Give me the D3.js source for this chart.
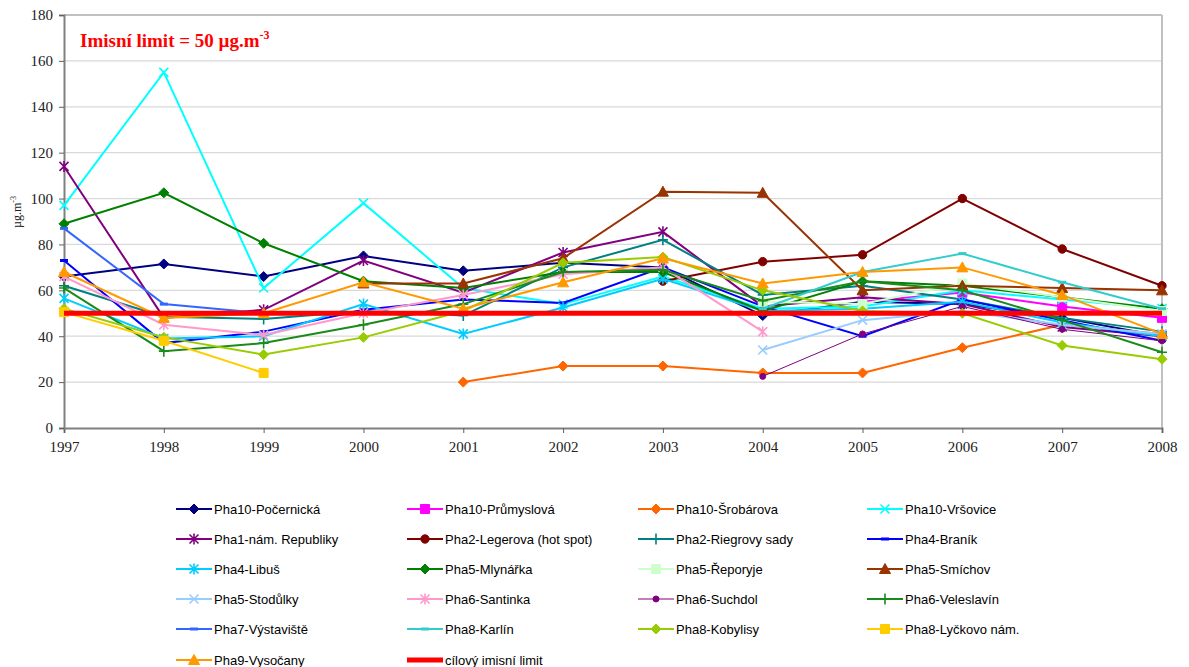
<!DOCTYPE html>
<html>
<head>
<meta charset="utf-8">
<title>Imisní limit</title>
<style>
body { margin: 0; background: #fff; }
</style>
</head>
<body>
<div id="container"></div>
<script src="https://d3js.org/d3.v7.min.js"></script>
<script>
// Years on the x axis
const years = [1997, 1998, 1999, 2000, 2001, 2002, 2003, 2004, 2005, 2006, 2007, 2008];
const yTicks = [0, 20, 40, 60, 80, 100, 120, 140, 160, 180];

// Annual values per station (µg.m-3), null = no measurement
const pocernicka  = [66, 71.5, 66, 75, 68.5, 72, 70, 49, 55, 54, 48, 40];
const prumyslova  = [null, null, null, null, null, null, null, null, 55, 59, 53, 48];
const srobarova   = [null, null, null, null, 20, 27, 27, 24, 24, 35, 45, 41];
const vrsovice    = [97, 155, 61, 98, 61, 54, 66, 52, 53, 60, 56, 52];
const namRepubliky = [114, 48, 51.5, 73, 59, 76.5, 85.5, 53, 57, 54, 44, 40];
const legerova    = [null, null, null, null, null, null, 64, 72.5, 75.5, 100, 78, 62];
const riegrovy    = [62, 48.5, 47.5, 51, 49, 70, 82, 58, 62, 56, 48, 42];
const branik      = [73, 37, 42, 51.5, 56, 54.5, 70, 53, 40, 56, 47, 38];
const libus       = [56.5, 39, 40, 54, 41, 52.5, 65, 51, 52, 55, 46, 40];
const mlynarka    = [89, 102.5, 80.5, 64, 61, 68, 68, 51, 64, 62, 57, 52];
const reporyje    = [null, null, null, null, null, null, null, 55, 54, 63, 57, 51];
const smichov     = [null, null, null, 63, 63, 74, 103, 102.5, 60, 62, 61, 60];
const stodulky    = [null, null, null, null, null, null, null, 34, 47, 51, 45, 41];
const santinka    = [66, 45, 40.5, 50, 58, 67, 70, 42, null, null, null, null];
const suchdol     = [null, null, null, null, null, null, null, 22.5, 41, 53, 43, 38];
const veleslavin  = [61, 33.5, 37, 45, 54, 68, 69, 55.5, 64, 60, 47, 33];
const vystaviste  = [87, 54, 50, null, null, null, null, null, null, null, null, null];
const karlin      = [null, null, null, null, null, null, null, 52, 68, 76, 63.5, 52];
const kobylisy    = [52, 39.5, 32, 39.5, 51, 72, 74.5, 60, 51, 50, 36, 30];
const lyckovo     = [50.5, 38, 24, null, null, null, null, null, null, null, null, null];
const vysocany    = [68, 48, 50, 63.5, 52, 63.5, 74, 63, 68, 70, 58, 41];
const limitValue  = 50;

const series = [
  {name: "Pha10-Počernická", values: pocernicka, color: "#000080", mark: "diamond"},
  {name: "Pha10-Průmyslová", values: prumyslova, color: "#ff00ff", mark: "square"},
  {name: "Pha10-Šrobárova", values: srobarova, color: "#ff6600", mark: "diamond"},
  {name: "Pha10-Vršovice", values: vrsovice, color: "#00ffff", mark: "x"},
  {name: "Pha1-nám. Republiky", values: namRepubliky, color: "#800080", mark: "star"},
  {name: "Pha2-Legerova (hot spot)", values: legerova, color: "#800000", mark: "circle"},
  {name: "Pha2-Riegrovy sady", values: riegrovy, color: "#008080", mark: "plus"},
  {name: "Pha4-Braník", values: branik, color: "#0000ff", mark: "dash"},
  {name: "Pha4-Libuš", values: libus, color: "#00ccff", mark: "star"},
  {name: "Pha5-Mlynářka", values: mlynarka, color: "#008000", mark: "diamond"},
  {name: "Pha5-Řeporyje", values: reporyje, color: "#ccffcc", mark: "square"},
  {name: "Pha5-Smíchov", values: smichov, color: "#993300", mark: "triangle"},
  {name: "Pha5-Stodůlky", values: stodulky, color: "#99ccff", mark: "x"},
  {name: "Pha6-Santinka", values: santinka, color: "#ff99cc", mark: "star"},
  {name: "Pha6-Suchdol", values: suchdol, color: "#800080", mark: "smallcircle", width: 1},
  {name: "Pha6-Veleslavín", values: veleslavin, color: "#1a8a1a", mark: "plus"},
  {name: "Pha7-Výstaviště", values: vystaviste, color: "#3366ff", mark: "dash"},
  {name: "Pha8-Karlín", values: karlin, color: "#33cccc", mark: "dash"},
  {name: "Pha8-Kobylisy", values: kobylisy, color: "#99cc00", mark: "diamond"},
  {name: "Pha8-Lyčkovo nám.", values: lyckovo, color: "#ffcc00", mark: "square"},
  {name: "Pha9-Vysočany", values: vysocany, color: "#ff9900", mark: "triangle"}
];

const width = 1189;
const height = 667;
const marginLeft = 64;
const plotRight = 1162;
const plotTop = 15;
const plotBottom = 428;

const x = d3.scaleLinear().domain([1997, 2008]).range([marginLeft, plotRight]);
const y = d3.scaleLinear().domain([0, 180]).range([plotBottom, plotTop]);

const svg = d3.create("svg")
    .attr("width", width)
    .attr("height", height)
    .style("font-family", "'Liberation Serif', 'Times New Roman', serif");

// Gridlines
svg.append("g")
  .selectAll("line")
  .data(yTicks.filter(d => d > 0))
  .join("line")
    .attr("x1", marginLeft)
    .attr("x2", plotRight)
    .attr("y1", d => y(d))
    .attr("y2", d => y(d))
    .attr("stroke", d => d === 180 ? "#c0c0c0" : "#d9d9d9")
    .attr("stroke-width", d => d === 180 ? 2 : 1.3);

// Right frame
svg.append("line")
    .attr("x1", plotRight).attr("x2", plotRight)
    .attr("y1", y(180)).attr("y2", y(0))
    .attr("stroke", "#c0c0c0").attr("stroke-width", 2);

// Axes
const xAxis = svg.append("g")
    .attr("transform", `translate(0,${plotBottom})`)
    .call(d3.axisBottom(x).tickValues(years).tickFormat(d3.format("d")).tickSize(5).tickPadding(8));
const yAxis = svg.append("g")
    .attr("transform", `translate(${marginLeft},0)`)
    .call(d3.axisLeft(y).tickValues(yTicks).tickSize(5).tickPadding(6));
[xAxis, yAxis].forEach(g => {
  g.select(".domain").attr("stroke", "#808080").attr("stroke-width", 2);
  g.selectAll(".tick line").attr("stroke", "#606060").attr("stroke-width", 1);
  g.selectAll("text").attr("font-family", "'Liberation Serif', serif").attr("font-size", 15).attr("fill", "#222");
});

// Y axis label
const yl = svg.append("text")
    .attr("transform", "translate(21,212) rotate(-90)")
    .attr("text-anchor", "middle")
    .attr("font-size", 12)
    .attr("fill", "#222");
yl.append("tspan").text("µg.m");
yl.append("tspan").attr("dy", -5).attr("font-size", 8).text("-3");

// Title annotation
const t = svg.append("text")
    .attr("x", 80).attr("y", 47)
    .attr("font-size", 19).attr("font-weight", "bold")
    .attr("fill", "#ff0000");
t.append("tspan").text("Imisní limit = 50 µg.m");
t.append("tspan").attr("dy", -8).attr("font-size", 12).text("-3");

// Marker shapes
function markPath(kind) {
  switch (kind) {
    case "diamond": return "M0,-5L5,0L0,5L-5,0Z";
    case "square": return "M-4.5,-4.5H4.5V4.5H-4.5Z";
    case "triangle": return "M0,-5.5L5.5,4.5H-5.5Z";
    case "circle": return d3.symbol(d3.symbolCircle, 55)();
    case "smallcircle": return d3.symbol(d3.symbolCircle, 28)();
    case "x": return "M-4.5,-4.5L4.5,4.5M-4.5,4.5L4.5,-4.5";
    case "star": return "M-4.5,-4.5L4.5,4.5M-4.5,4.5L4.5,-4.5M0,-5.5V5.5";
    case "plus": return "M-5,0H5M0,-5.5V5.5";
    case "dash": return "M-4,0H4";
  }
}
const openMarks = new Set(["x", "star", "plus", "dash"]);

function drawMark(sel, kind, color) {
  sel.append("path")
    .attr("d", markPath(kind))
    .attr("fill", openMarks.has(kind) ? "none" : color)
    .attr("stroke", color)
    .attr("stroke-width", kind === "dash" ? 3 : (openMarks.has(kind) ? 1.6 : 1));
}

const line = d3.line()
    .defined(d => d[1] != null)
    .x(d => x(d[0]))
    .y(d => y(d[1]));

const plot = svg.append("g");
series.forEach(s => {
  const pts = years.map((yr, i) => [yr, s.values[i]]);
  plot.append("path")
      .attr("fill", "none")
      .attr("stroke", s.color)
      .attr("stroke-width", s.width || 2)
      .attr("d", line(pts));
  pts.filter(d => d[1] != null).forEach(d => {
    const g = plot.append("g").attr("transform", `translate(${x(d[0])},${y(d[1])})`);
    drawMark(g, s.mark, s.color);
  });
});

// Target limit line
plot.append("path")
    .attr("fill", "none")
    .attr("stroke", "#ff0000")
    .attr("stroke-width", 5)
    .attr("d", line(years.map(yr => [yr, limitValue])));

// Legend
const legendItems = series.map(s => ({name: s.name, color: s.color, mark: s.mark, width: s.width}))
  .concat([{name: "cílový imisní limit", color: "#ff0000", mark: null, width: 5}]);
const colX = [176, 407, 638, 867];
const rowY = [509, 539, 569, 599, 629, 660];
const legend = svg.append("g")
    .attr("font-family", "'Liberation Sans', Arial, sans-serif")
    .attr("font-size", 13);
legendItems.forEach((d, i) => {
  const lx = colX[i % 4];
  const ly = rowY[Math.floor(i / 4)];
  const g = legend.append("g").attr("transform", `translate(${lx},${ly})`);
  g.append("line")
      .attr("x1", 0).attr("x2", 36)
      .attr("stroke", d.color)
      .attr("stroke-width", d.width === 5 ? 5 : (d.width || 2));
  if (d.mark) {
    const m = g.append("g").attr("transform", "translate(18,0)");
    drawMark(m, d.mark, d.color);
  }
  g.append("text")
      .attr("x", 38)
      .attr("dy", "0.35em")
      .attr("fill", "#000")
      .text(d.name);
});

document.getElementById("container").append(svg.node());
</script>
</body>
</html>
